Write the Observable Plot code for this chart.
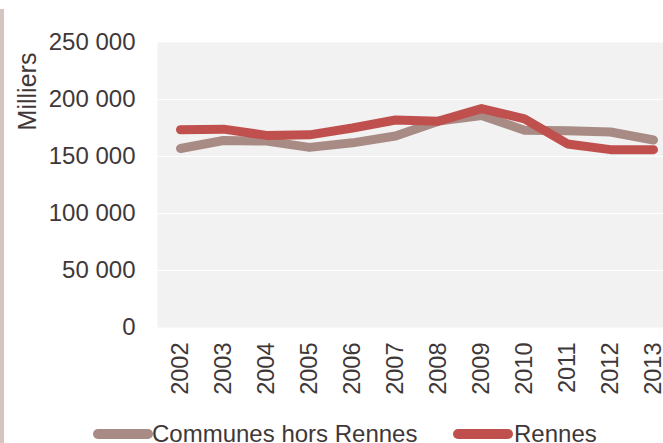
<!DOCTYPE html>
<html><head><meta charset="utf-8">
<script src="https://cdn.jsdelivr.net/npm/d3@7"></script>
<script src="https://cdn.jsdelivr.net/npm/@observablehq/plot@0.6"></script>
<style>
html,body{margin:0;padding:0;background:#fff;overflow:hidden;}
#wrap{position:relative;width:663px;height:443px;font-family:"Liberation Sans",Arial,sans-serif;color:#3f3838;}
#strip{position:absolute;left:0;top:9px;bottom:0;width:4px;background:#d5c5c1;}
#legend{position:relative;height:26px;font-size:24px;line-height:26px;}
#legend span{position:absolute;white-space:nowrap;}
.sw{height:10px;border-radius:5px;}
</style></head>
<body><div id="wrap"><div id="strip"></div><div id="chart"></div><div id="legend"></div></div>
<script>
const years = ["2002","2003","2004","2005","2006","2007","2008","2009","2010","2011","2012","2013"];
const communes = [157000,164000,163500,158000,162000,168000,181000,186000,173000,172500,171500,164500];
const rennes = [173500,174000,168500,169000,175000,182000,181000,192000,183000,161000,156000,156000];
const seriesNames = ["Communes hors Rennes","Rennes"];
const seriesColors = ["#a98b86","#c0504d"];
const yTicks = [0,50000,100000,150000,200000,250000];

const data = [];
[communes, rennes].forEach((vals, s) => years.forEach((yr, i) => data.push({serie: seriesNames[s], year: yr, value: vals[i]})));
const fmt = v => d3.format(",")(v).replace(/,/g, " ");
const textColor = "#3f3838";

const chart = Plot.plot({
  width: 663, height: 421,
  marginLeft: 157, marginRight: 0, marginTop: 42, marginBottom: 94,
  style: {fontFamily: "Liberation Sans, Arial, sans-serif", fontSize: "23.5px", color: textColor, background: "transparent"},
  x: {type: "point", domain: years, range: [177.5, 656], padding: 0},
  y: {domain: [0, 250000], ticks: yTicks},
  color: {domain: seriesNames, range: seriesColors},
  marks: [
    Plot.frame({fill: "#f2f2f2", stroke: null}),
    Plot.gridY(yTicks.filter(t => t > 0 && t < 250000), {stroke: "#ffffff", strokeOpacity: 1, strokeWidth: 1.2}),
    Plot.axisY({ticks: yTicks, tickFormat: fmt, tickSize: 0, tickPadding: 22, label: null, fill: textColor, fontSize: "24px"}),
    Plot.axisX({tickRotate: -90, tickSize: 0, tickPadding: 15, label: null, fill: textColor}),
    Plot.lineY(data, {x: "year", y: "value", z: "serie", stroke: "serie", strokeWidth: 9, strokeLinecap: "round", strokeLinejoin: "round"}),
    Plot.text(["Milliers"], {frameAnchor: "top-left", rotate: -90, dx: -139, dy: 49, fill: textColor, fontSize: "25px", textAnchor: "middle"})
  ]
});
document.getElementById("chart").appendChild(chart);
chart.style.display = "block";

const lg = document.getElementById("legend");
const pos = [{sw: 93, tx: 152}, {sw: 453, tx: 514}];
seriesNames.forEach((n, i) => {
  const s = document.createElement("span");
  s.className = "sw"; s.style.left = pos[i].sw + "px"; s.style.top = "8px"; s.style.width = "60px"; s.style.background = seriesColors[i];
  lg.appendChild(s);
  const t = document.createElement("span");
  t.textContent = n; t.style.left = pos[i].tx + "px"; t.style.top = "0px";
  lg.appendChild(t);
});
</script></body></html>
